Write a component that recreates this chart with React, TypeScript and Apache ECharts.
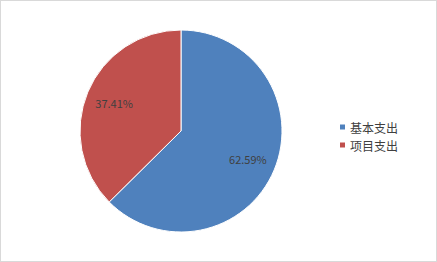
import React, { useEffect, useRef } from "react";
import * as echarts from "echarts";

const categories = ["基本支出", "项目支出"];
const values = [62.59, 37.41];
const colors = ["#4F81BD", "#C0504D"];

export default function App() {
  const ref = useRef<HTMLDivElement>(null);
  useEffect(() => {
    document.body.style.margin = "0";
    const chart = echarts.init(ref.current!, null, { renderer: "svg" });
    const data = categories.map((name, i) => ({ name, value: values[i] }));
    const font = "'Noto Sans CJK SC', 'Noto Sans', sans-serif";
    chart.setOption({
      animation: false,
      color: colors,
      legend: {
        orient: "vertical",
        left: 337,
        top: 120,
        padding: 0,
        itemWidth: 7,
        itemHeight: 7,
        itemGap: 6,
        icon: "rect",
        data: categories,
        textStyle: { fontSize: 12, color: "#404040", fontFamily: font, lineHeight: 12, padding: [0, 0, 0, -1] },
      },
      series: [
        {
          type: "pie",
          center: [180, 130],
          radius: [0, 101],
          startAngle: 90,
          clockwise: true,
          data,
          label: { show: false },
          labelLine: { show: false },
          itemStyle: { borderColor: "#ffffff", borderWidth: 1 },
        },
        {
          type: "pie",
          center: [180, 130],
          radius: [38, 101],
          startAngle: 90,
          clockwise: true,
          silent: true,
          data,
          itemStyle: { color: "transparent", borderWidth: 0 },
          label: {
            show: true,
            position: "inside",
            formatter: (p: any) => p.value.toFixed(2) + "%",
            fontSize: 11,
            color: "#404040",
            fontFamily: font,
          },
          labelLine: { show: false },
        },
      ],
    });
    return () => chart.dispose();
  }, []);
  return (
    <div
      style={{
        position: "fixed",
        left: 0,
        top: 0,
        width: 437,
        height: 262,
        boxSizing: "border-box",
        border: "1px solid #d9d9d9",
        background: "#fff",
      }}
    >
      <div ref={ref} style={{ width: 435, height: 260 }} />
    </div>
  );
}
